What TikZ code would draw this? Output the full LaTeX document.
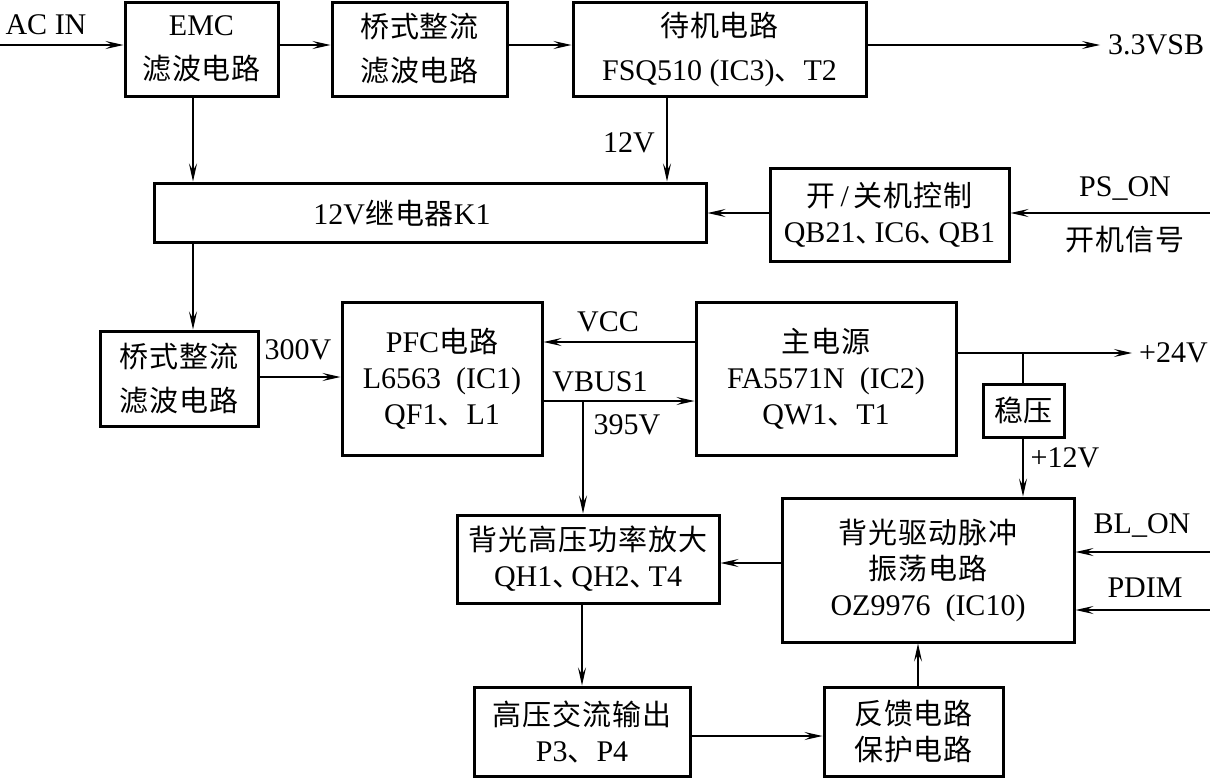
\documentclass[tikz,border=0pt]{standalone}
\usepackage{fontspec}
\setmainfont{Liberation Serif}
\newfontfamily\cjk[LetterSpace=3]{Noto Sans CJK SC}
\newcommand\zh[1]{{\cjk\fontsize{29}{36}\selectfont #1}}
\newcommand\dun{\makebox[19pt][l]{\zh{、}}}
\usetikzlibrary{arrows.meta,calc}
\begin{document}
\begin{tikzpicture}[x=1pt,y=-1pt,
  box/.style={draw, line width=3pt, inner sep=0pt, align=center, font=\fontsize{30}{36}\selectfont},
  boxw/.style={box, font=\fontsize{30}{44}\selectfont},
  lbl/.style={inner sep=0pt, font=\fontsize{30}{32}\selectfont},
  arr/.style={line width=1.2pt, -{Stealth[length=18pt,width=8pt,inset=7pt]}},
  ln/.style={line width=1.2pt}]
\useasboundingbox (0,0) rectangle (1210,779);
% boxes
\node[boxw, minimum width=153pt, minimum height=94pt] (emc) at (201.5,49) {EMC\\\zh{滤波电路}};
\node[boxw, minimum width=175pt, minimum height=94pt] (bt) at (419.5,49) {\zh{桥式整流}\\\zh{滤波电路}};
\node[boxw, minimum width=293pt, minimum height=94pt] (sb) at (719.5,49) {\zh{待机电路}\\FSQ510 (IC3)\zh{、}T2};
\node[box, minimum width=552pt, minimum height=59pt] (relay) at (430,212.5) {};
\node[lbl] (relaytxt) at (402,213) {12V\zh{继电器}K1};
\node[box, minimum width=239pt, minimum height=93pt] (onoff) at (889.5,214.5) {\zh{开}\,/\,\zh{关机控制}\\QB21\dun IC6\dun QB1};
\node[boxw, minimum width=158pt, minimum height=95pt] (btl) at (179,378.5) {\zh{桥式整流}\\\zh{滤波电路}};
\node[box, minimum width=200pt, minimum height=153pt] (pfc) at (442,378.5) {PFC\zh{电路}\\L6563\ \ (IC1)\\QF1\zh{、}L1};
\node[box, minimum width=260pt, minimum height=153pt] (main) at (826,378.5) {\zh{主电源}\\FA5571N\ \ (IC2)\\QW1\zh{、}T1};
\node[box, minimum width=81pt, minimum height=53pt] (wy) at (1023.5,410.5) {\zh{稳压}};
\node[box, minimum width=262pt, minimum height=88pt] (bhv) at (588,559) {\zh{背光高压功率放大}\\QH1\dun QH2\dun T4};
\node[box, minimum width=292pt, minimum height=144pt] (bd) at (928,570) {\zh{背光驱动脉冲}\\\zh{振荡电路}\\OZ9976\ \ (IC10)};
\node[box, minimum width=216pt, minimum height=89pt] (hv) at (582,731.5) {\zh{高压交流输出}\\P3\zh{、}P4};
\node[box, minimum width=179pt, minimum height=89pt] (fb) at (913.5,731.5) {\zh{反馈电路}\\\zh{保护电路}};
% free ends / routing coordinates
\coordinate (acin) at (0,45);
\coordinate (vsbend) at (1100,45);
\coordinate (x12) at (667,0);
\coordinate (xa) at (193,0);
\coordinate (ps) at (1210,213);
\coordinate (y300) at (0,377);
\coordinate (yvcc) at (0,342);
\coordinate (yvbus) at (0,401);
\coordinate (br) at (583,401);
\coordinate (y24) at (0,353);
\coordinate (v24end) at (1132,353);
\coordinate (j24) at (1023,353);
\coordinate (blon) at (1210,552);
\coordinate (pdim) at (1210,610);
\coordinate (ybd) at (0,563);
\coordinate (xhv) at (582,0);
\coordinate (yfb) at (0,736);
\coordinate (xfb) at (918,0);
% labels
\node[lbl] (tacin) at (46,25) {AC IN};
\node[lbl, anchor=west] (tvsb) at (1108,45) {3.3VSB};
\node[lbl] (t12) at (629,143) {12V};
\node[lbl] (tps) at (1125,188) {PS\_ON};
\node[lbl] (tkj) at (1125,240) {\zh{开机信号}};
\node[lbl] (t300) at (298,350) {300V};
\node[lbl] (tvcc) at (608,322) {VCC};
\node[lbl] (tvbus) at (600,382) {VBUS1};
\node[lbl] (t395) at (627,425) {395V};
\node[lbl, anchor=west] (t24) at (1139,353) {+24V};
\node[lbl] (t12b) at (1065,458) {+12V};
\node[lbl] (tblon) at (1142,525) {BL\_ON};
\node[lbl] (tpdim) at (1145,588) {PDIM};
% connectors
\draw[arr] (acin) -- (acin -| emc.west);
\draw[arr] (emc.east |- acin) -- (bt.west |- acin);
\draw[arr] (bt.east |- acin) -- (sb.west |- acin);
\draw[arr] (sb.east |- acin) -- (vsbend);
\draw[arr] (sb.south -| x12) -- (relay.north -| x12);
\draw[arr] (emc.south -| xa) -- (relay.north -| xa);
\draw[arr] (relay.south -| xa) -- (btl.north -| xa);
\draw[arr] (ps) -- (onoff.east |- ps);
\draw[arr] (onoff.west |- ps) -- (relay.east |- ps);
\draw[arr] (btl.east |- y300) -- (pfc.west |- y300);
\draw[arr] (main.west |- yvcc) -- (pfc.east |- yvcc);
\draw[arr] (pfc.east |- yvbus) -- (main.west |- yvbus);
\draw[arr] (br) -- (bhv.north -| br);
\draw[arr] (main.east |- y24) -- (v24end);
\draw[ln] (j24) -- (wy.north -| j24);
\draw[arr] (wy.south -| j24) -- (bd.north -| j24);
\draw[arr] (blon) -- (bd.east |- blon);
\draw[arr] (pdim) -- (bd.east |- pdim);
\draw[arr] (bd.west |- ybd) -- (bhv.east |- ybd);
\draw[arr] (bhv.south -| xhv) -- (hv.north -| xhv);
\draw[arr] (hv.east |- yfb) -- (fb.west |- yfb);
\draw[arr] (fb.north -| xfb) -- (bd.south -| xfb);
\end{tikzpicture}
\end{document}
